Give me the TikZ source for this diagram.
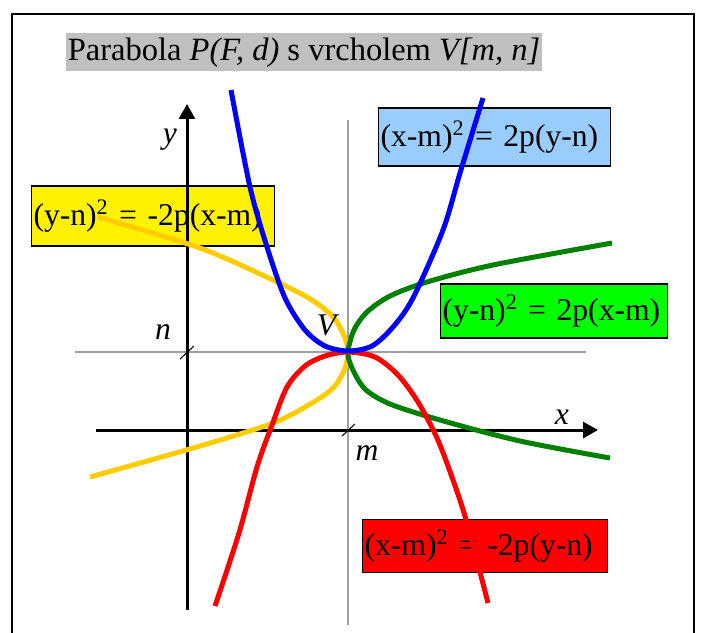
\documentclass[tikz,border=0pt]{standalone}
\usepackage{fontspec}
\setmainfont{Liberation Serif}
\usetikzlibrary{arrows.meta}

\definecolor{titlegray}{HTML}{C0C0C0}
\definecolor{boxblue}{HTML}{99CCFF}
\definecolor{curveyellow}{HTML}{FFCC00}
\definecolor{curvegreen}{HTML}{008000}

\begin{document}
\begin{tikzpicture}[x=0.02cm, y=-0.02cm, font=\fontsize{18}{20}\selectfont,
    eqbox/.style={draw, line width=0.6pt, inner xsep=0.04cm, inner ysep=0pt, anchor=west, align=left},
    axis/.style={line width=0.06cm, -{Triangle[length=0.3cm, width=0.32cm]}},
    guide/.style={gray!75, line width=0.7pt},
    tickmark/.style={line width=0.6pt},
    curve/.style={line width=0.1cm}]
\useasboundingbox (0,0) rectangle (702,632);
\draw[line width=0.7pt] (12,640) -- (12,14) -- (694,14) -- (694,640);

\node[fill=titlegray, anchor=north west, inner xsep=0.03cm, inner ysep=0pt, minimum height=0.76cm,
  font=\fontsize{18.5}{20}\selectfont] (title) at (66,33)
  {Parabola \textit{P(F, d)} s vrcholem \textit{V[m, n]}};

% equation boxes
\node[eqbox, fill=boxblue, text width=4.56cm, minimum height=1.16cm] (equp) at (378,137) {(x-m)\textsuperscript{2} = 2p(y-n)};
\node[eqbox, fill=yellow, text width=4.78cm, minimum height=1.2cm] (eqleft) at (31,216) {(y-n)\textsuperscript{2} = -2p(x-m)};
\node[eqbox, fill=green, text width=4.46cm, minimum height=1.08cm] (eqright) at (440,311) {(y-n)\textsuperscript{2} = 2p(x-m)};
\node[eqbox, fill=red, text width=4.82cm, minimum height=1.06cm] (eqdown) at (362,546) {(x-m)\textsuperscript{2} = -2p(y-n)};

\coordinate (V) at (348,352);
\coordinate (O) at (187,430);

% guides and axes
\draw[guide] (348,120) -- (348,625);
\draw[guide] (75,352) -- (586,352);
\draw[axis] (96,430) -- (598,430);
\draw[axis] (187,610) -- (187,104);
\draw[tickmark] (180,359) -- (194,346);
\draw[tickmark] (342,436) -- (355,424);

% the four parabolas
\draw[curve, curveyellow] plot[smooth] coordinates {(98,217) (200,248) (273,280) (312,300) (334,318) (345,338) (348,352)
  (345,368) (334,387) (312,403) (273,423) (200,446) (90,477)};
\draw[curve, curvegreen] plot[smooth] coordinates {(612,243) (493,265) (427,282) (390,296) (367,312) (354,330) (348,352)
  (352,368) (365,389) (390,404) (440,420) (520,441) (610,458)};
\draw[curve, red] plot[smooth] coordinates {(215,606) (239,533) (257,467) (272,425) (287,387) (305,366) (325,356) (348,352)
  (375,357) (398,375) (418,402) (437,438) (453,480) (467,523) (488,603)};
\draw[curve, blue] plot[smooth] coordinates {(231,90) (250,187) (267,247) (285,298) (305,330) (325,346) (348,351)
  (372,346) (393,327) (413,298) (443,230) (460,173) (483,98)};

% labels
\node (ylab) at (170,140) {\textit{y}};
\node (xlab) at (562,417) {\textit{x}};
\node (nlab) at (163,332) {\textit{n}};
\node (mlab) at (367,453) {\textit{m}};
\node (Vlab) at (328,325) {\textit{V}};
\end{tikzpicture}
\end{document}
